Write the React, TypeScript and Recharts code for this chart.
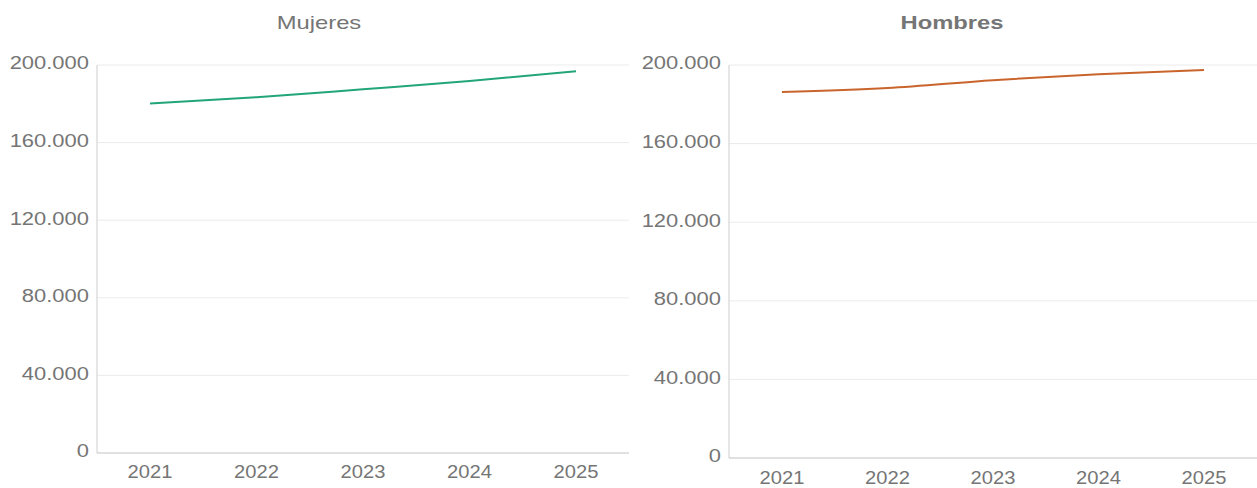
import React from "react";
import { LineChart, Line, XAxis, YAxis, CartesianGrid } from "recharts";

const years = ["2021", "2022", "2023", "2024", "2025"];
const mujeres = [180200, 183400, 187500, 191700, 196800];
const hombres = [186200, 188300, 192300, 195300, 197400];
const yTicks = [0, 40000, 80000, 120000, 160000, 200000];

const mujeresData = years.map((y, i) => ({ year: y, value: mujeres[i] }));
const hombresData = years.map((y, i) => ({ year: y, value: hombres[i] }));

const fmt = (v: number) => String(v).replace(/\B(?=(\d{3})+(?!\d))/g, ".");
const FONT = "'Liberation Sans', Arial, sans-serif";
const GREY = "#757575";
const SX = 1.22;

function YTick(props: any) {
  const { x, y, payload } = props;
  return (
    <text
      x={x}
      y={y - 2}
      dy="0.355em"
      textAnchor="end"
      fill={GREY}
      fontSize={18}
      fontFamily={FONT}
      transform={`translate(${x},0) scale(${SX},1) translate(${-x},0)`}
    >
      {fmt(payload.value)}
    </text>
  );
}

function makeXTick(offset: number) {
  return function XTick(props: any) {
    const { x, y, payload } = props;
    return (
      <text
        x={x}
        y={y + offset}
        dy="0.71em"
        textAnchor="middle"
        fill={GREY}
        fontSize={18}
        fontFamily={FONT}
        transform={`translate(${x},0) scale(1.12,1) translate(${-x},0)`}
      >
        {payload.value}
      </text>
    );
  };
}

function Panel(props: {
  data: { year: string; value: number }[];
  color: string;
  width: number;
  yWidth: number;
  right: number;
  bottom: number;
  xHeight: number;
  xOffset: number;
}) {
  const XT = makeXTick(props.xOffset);
  return (
    <LineChart
      width={props.width}
      height={488}
      data={props.data}
      margin={{ top: 65, right: props.right, bottom: props.bottom, left: 0 }}
    >
      <CartesianGrid horizontal vertical={false} stroke="#ebebeb" />
      <XAxis
        dataKey="year"
        tickLine={false}
        axisLine={{ stroke: "#cccccc" }}
        tick={<XT />}
        height={props.xHeight}
        interval={0}
        padding={{ left: 53, right: 53 }}
      />
      <YAxis
        domain={[0, 200000]}
        ticks={yTicks}
        tickLine={false}
        axisLine={{ stroke: "#cccccc" }}
        tick={<YTick />}
        width={props.yWidth}
        interval={0}
      />
      <Line
        type="monotone"
        dataKey="value"
        stroke={props.color}
        strokeWidth={2}
        dot={false}
        isAnimationActive={false}
      />
    </LineChart>
  );
}

const titleStyle: React.CSSProperties = {
  position: "absolute",
  width: 200,
  top: 13,
  textAlign: "center",
  color: GREY,
  fontSize: 19,
  lineHeight: "19px",
  fontFamily: FONT,
  transform: "scaleX(1.25)",
};

export default function App() {
  return (
    <div style={{ position: "absolute", left: 0, top: 0, width: 1257, height: 488, background: "#fff", fontFamily: FONT }}>
      <div style={{ position: "absolute", left: 0, top: 0 }}>
        <Panel data={mujeresData} color="#22a57a" width={640} yWidth={97} right={11} bottom={5} xHeight={30} xOffset={4} />
      </div>
      <div style={{ position: "absolute", left: 630, top: 0 }}>
        <Panel data={hombresData} color="#c9652c" width={627} yWidth={99} right={0} bottom={5} xHeight={25} xOffset={5} />
      </div>
      <div style={{ ...titleStyle, left: 219 }}>Mujeres</div>
      <div style={{ ...titleStyle, left: 852, fontWeight: "bold" }}>Hombres</div>
    </div>
  );
}
